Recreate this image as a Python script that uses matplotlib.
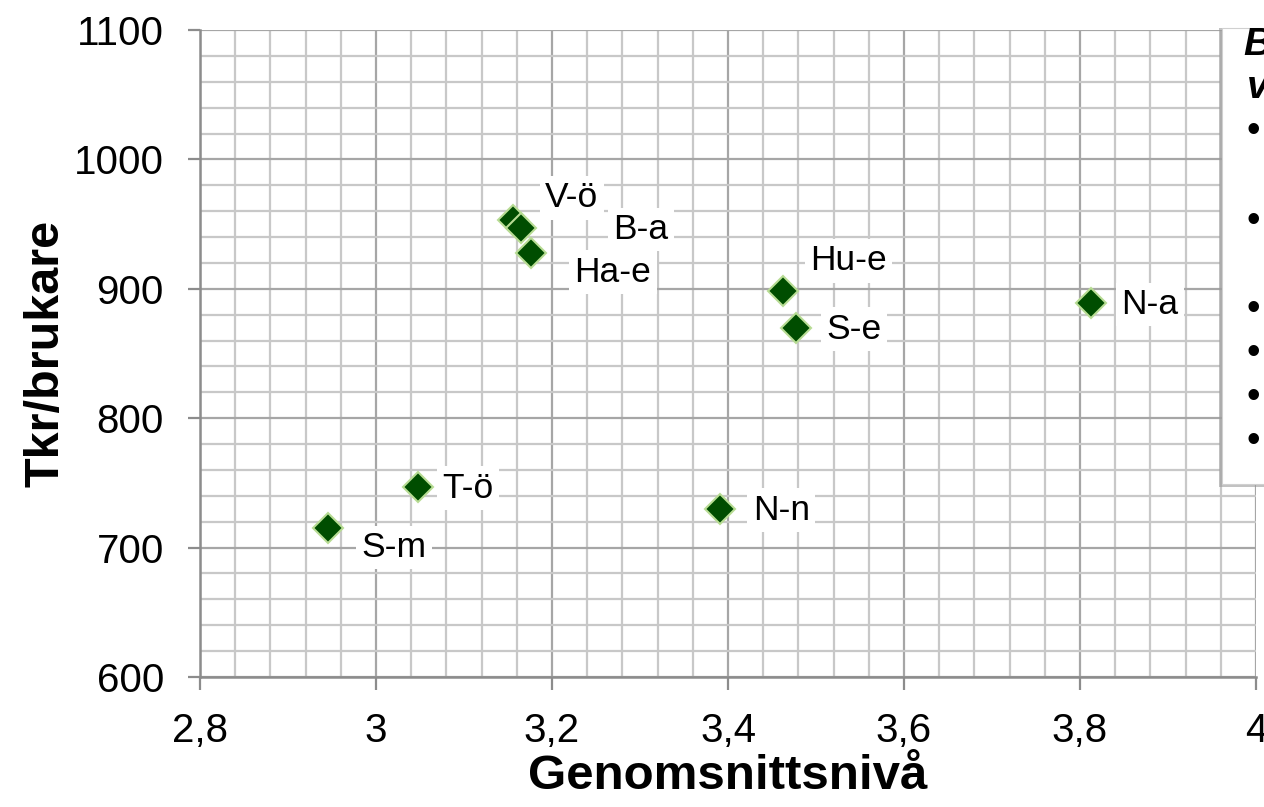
import matplotlib
matplotlib.use("Agg")
import matplotlib.pyplot as plt
from matplotlib.ticker import MultipleLocator, FuncFormatter
from matplotlib.patches import Rectangle

plt.rcParams['font.family'] = ['Liberation Sans', 'DejaVu Sans']

names = ["V-ö", "B-a", "Ha-e", "Hu-e", "S-e", "N-a", "T-ö", "S-m", "N-n"]
x_vals = [3.156, 3.165, 3.176, 3.463, 3.477, 3.813, 3.048, 2.945, 3.391]
y_vals = [953, 947, 928, 898, 870, 889, 747, 715, 730]
# label offsets in points (style)
offsets = [(42, 16), (86, -1), (59, -14), (47, 22), (42, -1), (42, -1), (36, -1), (48, -14), (44, -1)]

fig = plt.figure(figsize=(12.64, 8.07), dpi=100)
ax = fig.add_axes([200/1264, 1 - 677/807, 1056/1264, (677-30)/807])

ax.set_xlim(2.8, 4.0)
ax.set_ylim(600, 1100)
ax.xaxis.set_major_locator(MultipleLocator(0.2))
ax.xaxis.set_minor_locator(MultipleLocator(0.04))
ax.yaxis.set_major_locator(MultipleLocator(100))
ax.yaxis.set_minor_locator(MultipleLocator(20))

def fmt(v, pos):
    s = ("%.1f" % v).rstrip("0").rstrip(".")
    return s.replace(".", ",")
ax.xaxis.set_major_formatter(FuncFormatter(fmt))

ax.grid(which='major', color='#a6a6a6', linewidth=1.6)
ax.grid(which='minor', color='#c8c8c8', linewidth=1.6)
ax.set_axisbelow(True)
for s in ['top', 'right']:
    ax.spines[s].set_visible(False)
for s in ['left', 'bottom']:
    ax.spines[s].set_color('#8c8c8c')
    ax.spines[s].set_linewidth(1.8)
ax.tick_params(which='major', direction='out', length=9, width=1.6, color='#8c8c8c',
               labelsize=29)
ax.tick_params(axis='y', pad=17)
ax.tick_params(axis='x', pad=16)
ax.tick_params(which='minor', length=0)

ax.set_xlabel("Genomsnittsnivå", fontsize=35.5, fontweight='bold', labelpad=3)
ax.set_ylabel("Tkr/brukare", fontsize=35, fontweight='bold', labelpad=4)

ax.plot(x_vals, y_vals, linestyle='none', marker='D', markersize=15,
        markerfacecolor='#004d00', markeredgecolor='#b8dc94', markeredgewidth=1.5, zorder=3)

for n, xv, yv, (dx, dy) in zip(names, x_vals, y_vals, offsets):
    ax.annotate(n, (xv, yv), xytext=(dx, dy), textcoords='offset points',
                ha='center', va='center', fontsize=25.5,
                bbox=dict(boxstyle='square,pad=0.15', fc='white', ec='none'), zorder=4)

# partially visible text box at right edge
fig.patches.append(Rectangle((1219/1264, 1 - 487/807), 60/1264, (487-28)/807,
                             transform=fig.transFigure, fc='#9a9a9a', ec='none', alpha=0.6, zorder=5))
fig.patches.append(Rectangle((1222/1264, 1 - 484/807), 60/1264, (484-28)/807,
                             transform=fig.transFigure, fc='white', ec='#d0d0d0', lw=0.8, zorder=6))
fig.text(1243/1264, 1 - 45/807, "B", fontsize=28, fontweight='bold', fontstyle='italic',
         va='center', ha='left', zorder=7)
fig.text(1247/1264, 1 - 88/807, "v", fontsize=28, fontweight='bold', fontstyle='italic',
         va='center', ha='left', zorder=7)
for by in [132, 222, 310, 354, 398, 442]:
    fig.text(1253/1264, 1 - by/807, "•", fontsize=28, va='center', ha='center', zorder=7)

fig.savefig("out.png", dpi=100)
